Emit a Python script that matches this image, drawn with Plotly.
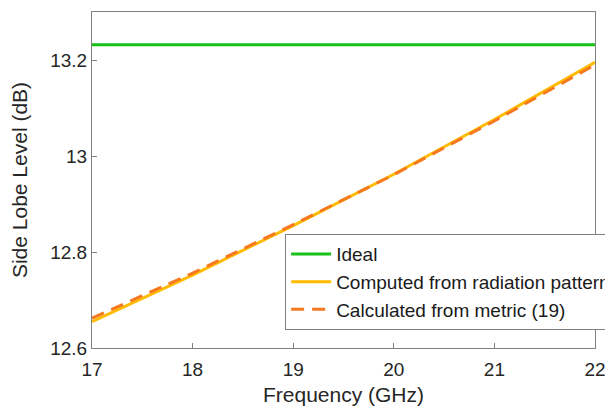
import plotly.graph_objects as go

freq = [17, 18, 19, 20, 21, 22]
ideal = [13.232, 13.232, 13.232, 13.232, 13.232, 13.232]
computed = [12.655, 12.752, 12.855, 12.962, 13.076, 13.195]
calculated = [12.662, 12.756, 12.857, 12.961, 13.073, 13.19]

fig = go.Figure()
fig.add_trace(go.Scatter(x=freq, y=ideal, mode="lines", name="Ideal",
                         line=dict(color="#17c217", width=3)))
fig.add_trace(go.Scatter(x=freq, y=computed, mode="lines", name="Computed from radiation pattern",
                         line=dict(color="#ffbb00", width=3)))
fig.add_trace(go.Scatter(x=freq, y=calculated, mode="lines", name="Calculated from metric (19)",
                         line=dict(color="#f7791f", width=3, dash="13px,8px")))

axis_style = dict(showgrid=False, zeroline=False, showline=True, mirror=True,
                  linecolor="#808080", linewidth=1, ticks="inside", ticklen=5,
                  tickcolor="#808080", tickfont=dict(size=19, color="#262626"),
                  automargin=True)

fig.update_layout(
    width=613, height=412,
    margin=dict(l=84, r=26, t=4, b=72, autoexpand=False),
    paper_bgcolor="white", plot_bgcolor="white",
    font=dict(family="Liberation Sans, Arial", color="#262626"),
    xaxis=dict(range=[17, 22], tickvals=freq, ticklabelstandoff=4,
               title=dict(text="Frequency (GHz)", font=dict(size=21), standoff=8), **axis_style),
    yaxis=dict(range=[12.6, 13.3], tickvals=[12.6, 12.8, 13, 13.2], ticktext=["12.6", "12.8", "13", "13.2"],
               title=dict(text="Side Lobe Level (dB)", font=dict(size=21), standoff=16), **axis_style),
    legend=dict(x=0.384, y=0.339, xanchor="left", yanchor="top", bgcolor="white",
                bordercolor="#808080", borderwidth=1, font=dict(size=19, color="#1a1a1a"),
                tracegroupgap=0, itemwidth=40),
    showlegend=True,
)

fig.write_html("out.html")
